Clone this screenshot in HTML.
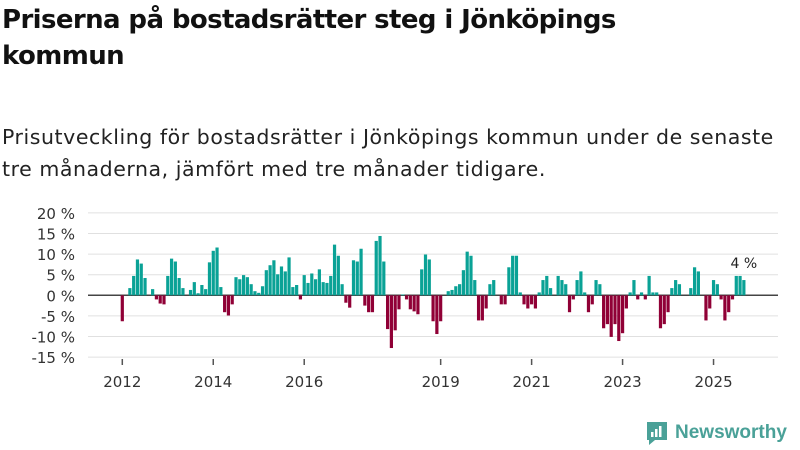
<!DOCTYPE html>
<html><head><meta charset="utf-8"><style>
body{margin:0;width:800px;height:450px;background:#fff;font-family:"DejaVu Sans","Liberation Sans",sans-serif;color:#111;overflow:hidden;position:relative}
h1{position:absolute;left:2px;top:2px;margin:0;font-size:26px;line-height:36px;font-weight:bold;width:790px;letter-spacing:-0.6px}
p{position:absolute;left:2px;top:121px;margin:0;font-size:20.5px;line-height:32px;color:#222;width:798px;letter-spacing:0.55px;white-space:nowrap}
svg{position:absolute;left:0;top:0}
</style></head><body>
<h1>Priserna på bostadsrätter steg i Jönköpings<br>kommun</h1>
<p>Prisutveckling för bostadsrätter i Jönköpings kommun under de senaste<br>tre månaderna, jämfört med tre månader tidigare.</p>
<svg id="chart" width="800" height="450"></svg>
<div style="position:absolute;left:645px;top:420px;display:flex;align-items:center;gap:6px">
<svg width="24" height="26" style="position:static"><path d="M2 2h20v18h-12l-6 5v-5h-2z" fill="#4aa198"/><rect x="6" y="12" width="2.5" height="5" fill="#fff"/><rect x="10" y="9" width="2.5" height="8" fill="#fff"/><rect x="14" y="6" width="2.5" height="11" fill="#fff"/></svg>
<span style="font-size:19px;color:#4aa198;font-weight:bold;font-family:'Liberation Sans',sans-serif">Newsworthy</span></div>
<script>
const values=[-6.3,null,1.75,4.7,8.7,7.7,4.2,null,1.5,-1.0,-2.0,-2.2,4.7,8.9,8.2,4.2,1.75,null,1.3,3.2,0.5,2.5,1.5,8.0,10.8,11.6,2.0,-4.1,-4.9,-2.2,4.4,3.9,4.9,4.4,2.7,1.0,0.6,2.2,6.1,7.3,8.5,5.1,7.0,5.8,9.2,2.0,2.5,-1.0,4.9,3.0,5.3,3.9,6.3,3.2,3.0,4.7,12.3,9.6,2.7,-1.8,-3.0,8.5,8.2,11.3,-2.5,-4.1,-4.1,13.2,14.4,8.2,-8.2,-12.8,-8.5,-3.4,0.2,-1.0,-3.4,-3.9,-4.6,6.3,9.9,8.7,-6.3,-9.4,-6.3,null,1.0,1.3,2.2,2.7,6.1,10.6,9.6,3.7,-6.1,-6.1,-3.2,2.7,3.7,null,-2.2,-2.2,6.8,9.6,9.6,0.7,-2.2,-3.2,-2.2,-3.2,0.7,3.7,4.7,1.75,null,4.7,3.7,2.7,-4.1,-1.0,3.7,5.8,0.7,-4.1,-2.2,3.7,2.7,-8.0,-7.0,-10.1,-7.0,-11.1,-9.2,-3.2,0.7,3.7,-1.0,0.7,-1.0,4.7,0.7,0.7,-8.0,-7.0,-4.1,1.75,3.7,2.7,null,null,1.75,6.8,5.8,null,-6.1,-3.2,3.7,2.7,-1.0,-6.1,-4.1,-1.0,4.7,4.7,3.7];
const yTicks=[20,15,10,5,0,-5,-10,-15];
const xYears=[2012,2014,2016,2019,2021,2023,2025];
const lastLabel="4 %";
const ns="http://www.w3.org/2000/svg",svg=document.getElementById('chart');
const y=v=>295.3-v*4.12;
const x=i=>122.3+i*3.79;
const xYear=yr=>x((yr-2012)*12);
function mk(t,a){const e=document.createElementNS(ns,t);for(const k in a)e.setAttribute(k,a[k]);svg.appendChild(e);return e;}
yTicks.forEach(v=>{
 const l=mk('line',{x1:88,x2:778,y1:y(v),y2:y(v),stroke:v===0?'#444':'#e0e0e0','stroke-width':v===0?1.5:1});
 
 
 const t=mk('text',{x:75,y:y(v)+6,'text-anchor':'end','font-size':15,fill:'#333','font-family':'DejaVu Sans, sans-serif'});
 t.textContent=v+' %';
 
 
});
values.forEach((v,i)=>{
 if(v===null)return;
 const r=mk('rect',{x:x(i)-1.6,width:3.2,y:Math.min(y(v),y(0)),height:Math.abs(y(v)-y(0)),fill:v>=0?'#0aa296':'#900036'});
 
 
});
xYears.forEach(yr=>{
 const tk=mk('line',{x1:xYear(yr),x2:xYear(yr),y1:359,y2:365,stroke:'#555','stroke-width':1.5});
 
 
 const t=mk('text',{x:xYear(yr),y:387,'text-anchor':'middle','font-size':15,fill:'#333','font-family':'DejaVu Sans, sans-serif'});
 t.textContent=yr;
 
 
});
const li=values.length-1;
const lt=mk('text',{x:x(li),y:y(values[li])-12,'text-anchor':'middle','font-size':14,fill:'#222','font-family':'DejaVu Sans, sans-serif'});
lt.textContent=lastLabel;


</script>
</body></html>
